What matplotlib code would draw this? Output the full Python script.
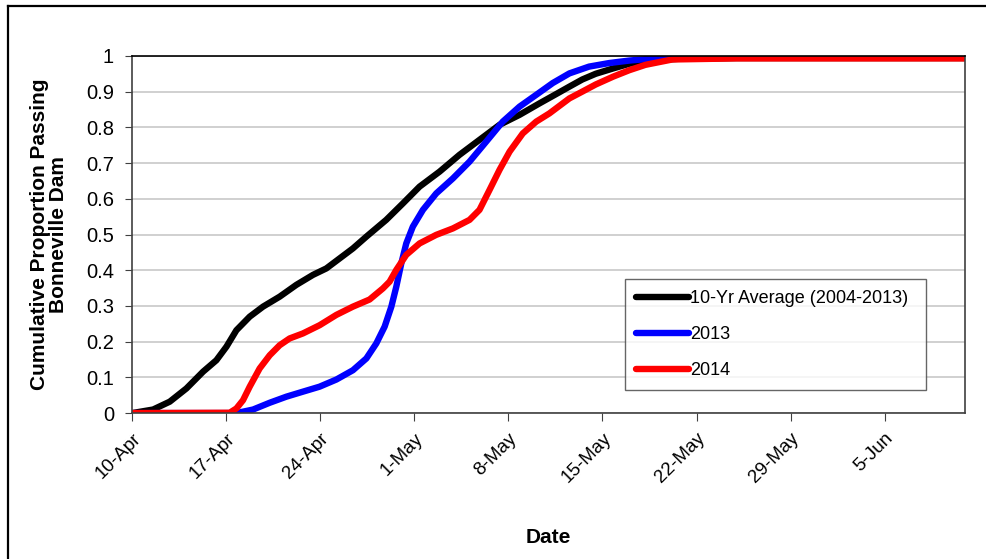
import numpy as np
import matplotlib
matplotlib.use('Agg')
from matplotlib import pyplot as plt
from matplotlib.lines import Line2D

# days after 10-Apr
tickDays = [0, 7, 14, 21, 28, 35, 42, 49, 56]
tickLabels = ['10-Apr', '17-Apr', '24-Apr', '1-May', '8-May', '15-May', '22-May', '29-May', '5-Jun']

avgDays = [0, 1.56, 2.8, 4.04, 5.28, 6.27, 7.02, 7.76, 8.75, 9.74, 10.98, 12.22, 13.46, 14.45, 15.44, 16.43,
           17.43, 18.91, 20.15, 21.39, 22.88, 24.36, 25.85, 27.34, 28.83, 30.31, 31.5, 32.54, 33.5, 34.5, 35.8,
           37.0, 38.2, 40.7, 45, 62]
avgVals = [0.0, 0.01, 0.032, 0.069, 0.116, 0.148, 0.186, 0.232, 0.27, 0.298, 0.326, 0.359, 0.387, 0.405, 0.433,
           0.461, 0.494, 0.541, 0.587, 0.634, 0.676, 0.723, 0.765, 0.807, 0.835, 0.867, 0.892, 0.914, 0.934, 0.95,
           0.965, 0.978, 0.986, 0.992, 0.994, 0.994]

y2013Days = [0, 7.76, 9.0, 10.24, 11.48, 12.71, 13.95, 15.2, 16.43, 17.43, 18.17, 18.79, 19.29, 19.66, 20.03,
             20.4, 20.89, 21.64, 22.63, 23.87, 25.11, 26.35, 27.58, 28.83, 30.07, 31.3, 32.54, 34.0, 35.5, 37.0,
             39.5, 45, 62]
y2013Vals = [0.0, 0.0, 0.01, 0.029, 0.046, 0.06, 0.074, 0.094, 0.12, 0.153, 0.195, 0.242, 0.298, 0.354, 0.419,
             0.475, 0.522, 0.569, 0.615, 0.657, 0.704, 0.76, 0.816, 0.858, 0.891, 0.924, 0.951, 0.97, 0.98, 0.987,
             0.995, 0.995, 0.995]

y2014Days = [0, 7.26, 7.76, 8.25, 8.75, 9.49, 10.24, 10.98, 11.72, 12.71, 13.95, 15.2, 16.43, 17.67, 18.66,
             19.16, 19.66, 20.4, 21.39, 22.63, 23.87, 25.11, 25.85, 26.6, 27.34, 28.09, 29.07, 30.07, 31.05, 32.54,
             33.5, 34.5, 35.8, 37.0, 38.2, 40.2, 45, 62]
y2014Vals = [0.0, 0.001, 0.013, 0.036, 0.074, 0.125, 0.162, 0.19, 0.209, 0.223, 0.246, 0.275, 0.298, 0.318,
             0.349, 0.368, 0.401, 0.443, 0.475, 0.499, 0.517, 0.541, 0.569, 0.625, 0.681, 0.732, 0.783, 0.816,
             0.839, 0.881, 0.9, 0.92, 0.942, 0.96, 0.975, 0.99, 0.993, 0.993]

plt.rcParams['font.family'] = ['Liberation Sans', 'DejaVu Sans']

fig = plt.figure(figsize=(9.86, 5.59), dpi=100)
ax = fig.add_axes([0.134, 0.261, 0.845, 0.639])

style = dict(lw=4.6, solid_capstyle='round', solid_joinstyle='round')
ax.plot(avgDays, avgVals, color='black', label='10-Yr Average (2004-2013)', **style)
ax.plot(y2013Days, y2013Vals, color='#0000ff', label='2013', **style)
ax.plot(y2014Days, y2014Vals, color='#ff0000', label='2014', **style)

ax.set_xlim(0, 62)
ax.set_ylim(0, 1)
ax.set_yticks(np.arange(0, 1.01, 0.1))
ax.set_yticklabels(['0', '0.1', '0.2', '0.3', '0.4', '0.5', '0.6', '0.7', '0.8', '0.9', '1'])
ax.set_xticks(tickDays)
ax.set_xticklabels(tickLabels, rotation=45, ha='right', rotation_mode='anchor')
ax.tick_params(axis='y', direction='out', length=5, labelsize=14.5, color='#404040', pad=8)
ax.tick_params(axis='x', direction='out', length=6, labelsize=13.5, color='#404040', pad=6)
ax.grid(axis='y', color='#c8c8c8', lw=1.2)
ax.set_axisbelow(True)
for s in ax.spines.values():
  s.set_color('#404040')
  s.set_linewidth(1.2)
ax.spines['top'].set_color('black')

ax.set_ylabel('Cumulative Proportion Passing\nBonneville Dam', fontsize=15, fontweight='bold',
              labelpad=13, linespacing=1.0)
ax.set_xlabel('Date', fontsize=15, fontweight='bold', labelpad=30)

leg = ax.legend(loc='lower left', bbox_to_anchor=(0.592, 0.065, 0.361, 0.31), mode='expand',
                fontsize=13, frameon=True, fancybox=False, handlelength=2.9, handletextpad=0.1,
                labelspacing=1.05, borderpad=0.6, borderaxespad=0)
leg.get_frame().set_edgecolor('#404040')
leg.get_frame().set_linewidth(1.0)

# outer border (left and top)
fig.add_artist(Line2D([0.0085, 0.0085], [0, 0.989], color='black', lw=1.6, transform=fig.transFigure))
fig.add_artist(Line2D([0.0085, 1], [0.989, 0.989], color='black', lw=1.6, transform=fig.transFigure))

fig.savefig('out.png', dpi=100)
